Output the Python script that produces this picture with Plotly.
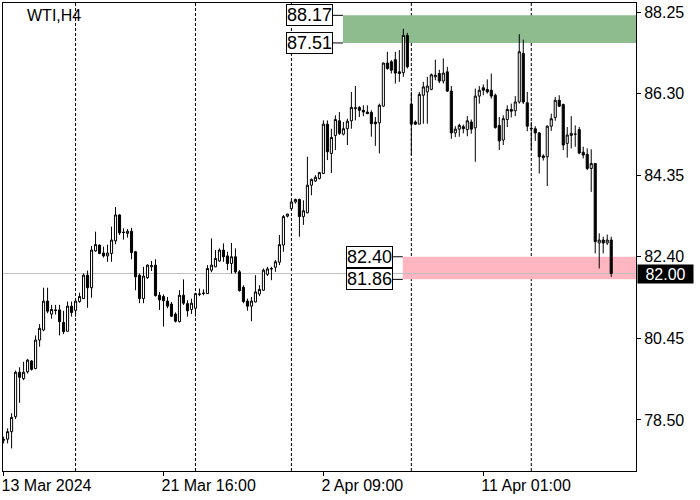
import plotly.graph_objects as go

# ---- data (WTI H4) ----
opens = [78.03, 78.04, 78.22, 78.58, 79.64, 79.49, 79.65, 79.91, 79.73, 80.41,
         80.65, 81.34, 81.03, 81.13, 81.13, 80.83, 80.62, 81.22, 81.12, 81.33,
         81.40, 81.96, 81.66, 82.54, 82.68, 82.49, 82.42, 82.48, 82.78, 83.40,
         82.99, 82.96, 83.01, 82.52, 81.96, 81.40, 81.90, 82.16, 82.20, 81.48,
         81.45, 81.34, 81.27, 81.03, 80.85, 81.48, 81.28, 81.14, 81.17, 81.50,
         81.52, 81.52, 82.08, 82.16, 82.30, 82.56, 82.42, 82.24, 82.40, 82.04,
         81.67, 81.34, 81.22, 81.32, 81.51, 81.60, 81.98, 82.12, 82.15, 82.27,
         82.68, 83.37, 83.55, 83.71, 83.77, 83.36, 83.45, 84.11, 84.21, 84.27,
         84.39, 85.57, 84.87, 85.30, 85.65, 85.33, 85.46, 85.65, 85.94, 85.97,
         85.90, 85.86, 85.85, 85.62, 85.60, 86.00, 87.03, 87.06, 87.11, 86.82,
         86.80, 87.69, 86.05, 85.62, 85.57, 86.26, 86.34, 86.40, 86.70, 86.78,
         86.60, 86.82, 86.36, 85.36, 85.45, 85.51, 85.44, 85.62, 85.48, 86.24,
         86.44, 86.40, 86.38, 86.26, 85.54, 85.19, 85.68, 85.92, 85.89, 86.10,
         87.26, 86.08, 85.47, 85.46, 85.36, 84.81, 84.79, 85.52, 85.73, 86.14,
         86.04, 85.11, 85.30, 85.33, 85.44, 84.90, 84.85, 84.51, 84.63, 82.73,
         82.80, 82.73, 82.80]
highs = [78.10, 78.30, 78.66, 79.68, 79.76, 79.89, 79.96, 79.93, 80.52, 80.79,
         81.66, 81.66, 81.25, 81.25, 81.25, 81.11, 81.33, 81.33, 81.41, 81.54,
         82.00, 82.07, 82.66, 83.00, 82.69, 82.64, 82.69, 83.12, 83.59, 83.41,
         83.08, 83.06, 83.09, 82.54, 82.00, 82.16, 82.22, 82.30, 82.34, 81.56,
         81.50, 81.44, 81.32, 81.07, 81.60, 81.86, 81.36, 81.40, 81.54, 81.64,
         81.62, 82.20, 82.84, 82.56, 82.60, 82.72, 82.52, 82.73, 82.60, 82.08,
         81.72, 81.40, 81.44, 81.96, 81.72, 82.12, 82.16, 82.16, 82.32, 82.92,
         83.40, 83.43, 83.75, 83.79, 83.79, 83.75, 84.79, 84.27, 84.35, 84.43,
         85.66, 85.66, 85.46, 85.78, 85.86, 85.62, 85.70, 86.34, 86.48, 86.00,
         86.02, 86.02, 85.90, 85.74, 86.06, 87.04, 87.30, 87.10, 87.30, 87.34,
         87.85, 87.75, 86.34, 85.66, 86.34, 86.58, 86.70, 86.78, 87.11, 86.87,
         87.14, 86.94, 86.48, 85.52, 85.58, 85.56, 85.76, 85.68, 86.42, 86.48,
         86.52, 86.64, 86.78, 86.30, 85.74, 85.78, 86.02, 86.06, 86.24, 87.72,
         87.59, 86.34, 85.62, 85.52, 85.38, 84.85, 85.54, 85.82, 86.22, 86.26,
         86.06, 85.50, 85.76, 85.54, 85.50, 85.03, 84.99, 84.97, 84.64, 82.96,
         82.88, 82.93, 82.88]
lows = [77.94, 77.94, 77.82, 78.52, 78.91, 79.45, 79.61, 79.68, 79.71, 80.25,
        80.62, 81.05, 80.92, 81.02, 80.52, 80.55, 80.61, 80.97, 80.97, 81.30,
        81.39, 81.18, 81.42, 82.52, 82.46, 82.38, 82.28, 82.28, 82.70, 82.92,
        82.81, 82.86, 82.34, 81.60, 81.29, 81.29, 81.87, 82.06, 81.45, 81.13,
        80.73, 81.17, 80.97, 80.83, 80.83, 81.25, 80.97, 81.03, 80.97, 81.46,
        81.48, 81.51, 82.03, 82.15, 82.28, 82.28, 82.08, 82.00, 82.00, 81.57,
        81.29, 81.11, 80.86, 81.31, 81.46, 81.59, 81.94, 81.84, 82.04, 82.20,
        82.52, 83.34, 83.53, 83.67, 82.88, 83.16, 83.44, 83.87, 84.19, 84.25,
        84.39, 84.71, 84.40, 84.95, 85.31, 85.30, 85.07, 85.46, 85.66, 85.74,
        85.76, 85.82, 85.27, 85.05, 84.87, 85.99, 86.87, 86.78, 86.54, 86.58,
        86.70, 86.90, 84.83, 85.55, 85.57, 85.58, 85.58, 86.38, 86.62, 86.55,
        86.54, 86.34, 85.22, 85.26, 85.27, 85.35, 85.28, 85.34, 84.67, 86.06,
        86.26, 86.30, 86.18, 85.46, 84.95, 85.07, 85.50, 85.73, 85.76, 86.06,
        86.05, 85.40, 84.95, 85.17, 84.39, 84.70, 84.09, 85.41, 85.65, 85.98,
        84.95, 84.77, 84.99, 85.03, 84.85, 84.75, 84.47, 83.95, 82.48, 82.12,
        82.48, 82.68, 81.92]
closes = [78.02, 78.22, 78.56, 79.64, 79.52, 79.64, 79.93, 79.71, 80.41, 80.69,
          81.34, 81.10, 81.14, 81.12, 80.85, 80.61, 81.22, 81.07, 81.34, 81.45,
          81.96, 81.66, 82.56, 82.69, 82.48, 82.42, 82.49, 82.80, 83.40, 82.97,
          82.98, 83.01, 82.50, 81.92, 81.40, 81.94, 82.20, 82.19, 81.47, 81.37,
          81.35, 81.22, 80.98, 80.86, 81.48, 81.29, 81.11, 81.29, 81.52, 81.51,
          81.53, 82.12, 82.20, 82.36, 82.56, 82.40, 82.24, 82.40, 82.04, 81.59,
          81.33, 81.22, 81.34, 81.56, 81.62, 82.08, 82.11, 82.11, 82.28, 82.69,
          83.36, 83.42, 83.71, 83.77, 83.36, 83.50, 84.11, 84.25, 84.30, 84.41,
          85.57, 84.91, 85.25, 85.68, 85.35, 85.46, 85.64, 85.97, 85.96, 85.90,
          85.86, 85.82, 85.58, 85.58, 86.02, 87.03, 86.90, 86.86, 86.79, 86.78,
          87.69, 86.94, 85.57, 85.57, 86.28, 86.46, 86.48, 86.75, 86.74, 86.60,
          86.79, 86.36, 85.36, 85.45, 85.54, 85.46, 85.65, 85.45, 86.24, 86.38,
          86.38, 86.34, 86.24, 85.49, 85.17, 85.70, 85.92, 85.88, 86.10, 87.30,
          86.10, 85.52, 85.46, 85.36, 84.79, 84.77, 85.52, 85.70, 86.14, 86.00,
          85.07, 85.31, 85.35, 85.33, 84.88, 84.83, 84.51, 84.63, 82.76, 82.80,
          82.73, 82.80, 82.00]
bar_index = list(range(len(opens)))

x_tick_bars = [0, 40, 80, 120]
x_tick_labels = ["13 Mar 2024", "21 Mar 16:00", "2 Apr 09:00", "11 Apr 01:00"]
week_start_bars = [18, 48, 72, 102, 132]

y_tick_values = [88.25, 86.30, 84.35, 82.40, 80.45, 78.50]
y_tick_labels = ["88.25", "86.30", "84.35", "82.40", "80.45", "78.50"]

green_zone = [87.51, 88.17]
pink_zone = [81.86, 82.40]
green_zone_start = 84.9
pink_zone_start = 99.85
current_price = 82.00

X_RANGE = [-0.15, 158.2]
Y_RANGE = [77.28, 88.465]
FONT = "Liberation Sans, Arial, sans-serif"

fig = go.Figure()
fig.add_trace(go.Candlestick(
    x=bar_index, open=opens, high=highs, low=lows, close=closes,
    increasing=dict(line=dict(color="black", width=1), fillcolor="white"),
    decreasing=dict(line=dict(color="black", width=1), fillcolor="black"),
    whiskerwidth=0, showlegend=False, hoverinfo="skip",
))

shapes = []
# zones
shapes.append(dict(type="rect", xref="x", yref="y", x0=green_zone_start, x1=X_RANGE[1],
                   y0=green_zone[0], y1=green_zone[1], fillcolor="#8fbc8f",
                   line=dict(width=0), layer="below"))
shapes.append(dict(type="rect", xref="x", yref="y", x0=pink_zone_start, x1=X_RANGE[1],
                   y0=pink_zone[0], y1=pink_zone[1], fillcolor="#ffb6c1",
                   line=dict(width=0), layer="below"))
# week separators
for b in week_start_bars:
    shapes.append(dict(type="line", xref="x", yref="paper", x0=b, x1=b, y0=0, y1=1,
                       line=dict(color="black", width=1, dash="3px,2px"), layer="below"))
# current price line
shapes.append(dict(type="line", xref="x", yref="y", x0=X_RANGE[0], x1=X_RANGE[1],
                   y0=current_price, y1=current_price,
                   line=dict(color="#c0c0c0", width=1), layer="below"))
# connectors from price boxes to zones
for start, levels in ((green_zone_start, green_zone), (pink_zone_start, pink_zone)):
    for lv in levels:
        shapes.append(dict(type="line", xref="x", yref="y", xsizemode="pixel",
                           xanchor=start, x0=-10, x1=0, y0=lv, y1=lv,
                           line=dict(color="black", width=1)))

annotations = []
for start, levels in ((green_zone_start, green_zone), (pink_zone_start, pink_zone)):
    for lv in levels:
        annotations.append(dict(x=start, y=lv, xref="x", yref="y", xanchor="right",
                                yanchor="middle", xshift=-10, text=f"{lv:.2f}",
                                showarrow=False, bgcolor="white", bordercolor="black",
                                borderwidth=1, borderpad=0,
                                font=dict(family=FONT, size=18, color="black")))
annotations.append(dict(x=1, y=current_price, xref="paper", yref="y", xanchor="left",
                        yanchor="middle", xshift=1, text=f"{current_price:.2f}",
                        showarrow=False, bgcolor="black", width=53, height=16,
                        borderpad=1, font=dict(family=FONT, size=16, color="white")))
annotations.append(dict(x=0, y=1, xref="paper", yref="paper", xanchor="left",
                        yanchor="top", xshift=22, yshift=-2, text="WTI,H4",
                        showarrow=False, font=dict(family=FONT, size=16, color="black")))

fig.update_layout(
    width=700, height=500,
    margin=dict(l=3, r=64, t=3, b=29, autoexpand=False),
    paper_bgcolor="white", plot_bgcolor="white",
    showlegend=False, boxgap=0.25, hovermode=False,
    shapes=shapes, annotations=annotations,
    font=dict(family=FONT, size=16, color="black"),
    xaxis=dict(range=X_RANGE, rangeslider=dict(visible=False), showgrid=False,
               zeroline=False, showline=True, linecolor="black", linewidth=1,
               mirror=True, ticks="outside", ticklen=4, tickcolor="black",
               tickvals=x_tick_bars, ticktext=x_tick_labels,
               ticklabelposition="outside right", ticklabelshift=-3,
               tickfont=dict(family=FONT, size=16, color="black")),
    yaxis=dict(range=Y_RANGE, side="right", showgrid=False, zeroline=False,
               showline=True, linecolor="black", linewidth=1, mirror=True,
               ticks="outside", ticklen=4, tickcolor="black",
               tickvals=y_tick_values, ticktext=y_tick_labels,
               tickfont=dict(family=FONT, size=16, color="black")),
)

fig.write_html("out.html", config={"displayModeBar": False, "staticPlot": True},
               post_script="document.body.style.margin='0';document.body.style.padding='0';")
